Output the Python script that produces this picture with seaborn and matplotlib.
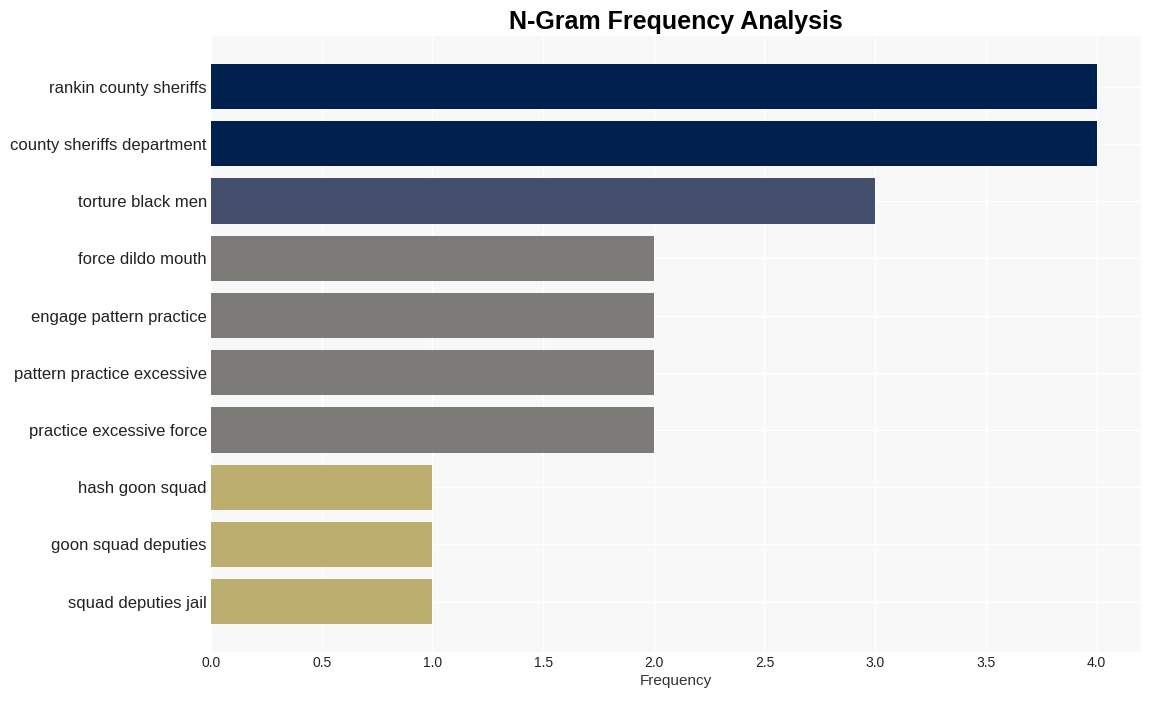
import matplotlib
matplotlib.use("Agg")
import matplotlib.pyplot as plt
import pandas as pd
import seaborn as sns

ngrams = [
    "rankin county sheriffs",
    "county sheriffs department",
    "torture black men",
    "force dildo mouth",
    "engage pattern practice",
    "pattern practice excessive",
    "practice excessive force",
    "hash goon squad",
    "goon squad deputies",
    "squad deputies jail",
]
counts = [4, 4, 3, 2, 2, 2, 2, 1, 1, 1]

# one colour per frequency level (cividis-like)
LEVEL_COLORS = {4: "#00204e", 3: "#434e6c", 2: "#7c7b78", 1: "#bcae6e"}

df = pd.DataFrame({"ngram": ngrams, "count": counts})

sns.set_theme(style="whitegrid")
plt.rcParams["font.family"] = ["Liberation Sans", "DejaVu Sans"]

fig, ax = plt.subplots(figsize=(11.5, 7.01), dpi=100)
ax.set_facecolor("#f8f8f8")

sns.barplot(
    data=df, x="count", y="ngram", hue="ngram",
    palette=[LEVEL_COLORS[c] for c in counts],
    legend=False, width=0.79, saturation=1, linewidth=0, ax=ax,
)

ax.set_xlim(0, 4.2)
ax.set_ylim(len(ngrams) - 1 + 0.88, -0.89)
ax.grid(True, color="white", linewidth=1)
ax.set_axisbelow(True)
for s in ax.spines.values():
    s.set_visible(False)

ax.set_title("N-Gram Frequency Analysis", fontsize=18, fontweight="bold", pad=5, color="black")
ax.set_xlabel("Frequency", fontsize=11, color="#333333", labelpad=3)
ax.set_ylabel("")
ax.tick_params(axis="y", labelsize=12, colors="#222222", length=0, pad=3)
ax.tick_params(axis="x", labelsize=10, colors="#222222", length=0, pad=3)

fig.subplots_adjust(left=0.1835, right=0.992, top=0.949, bottom=0.07)
fig.savefig("out.png", dpi=100)
